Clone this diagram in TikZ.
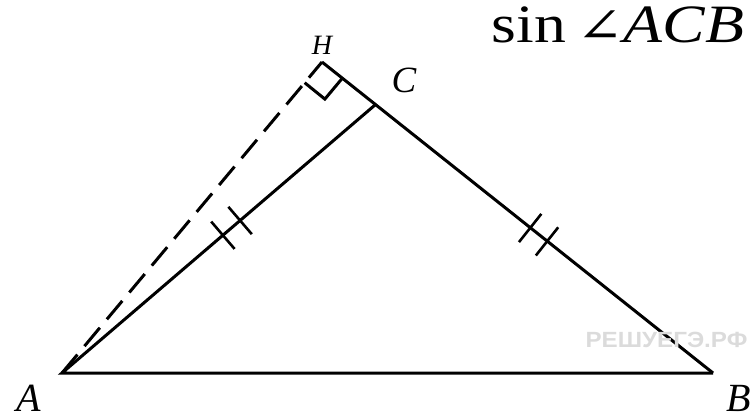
\documentclass[tikz,border=0pt]{standalone}
\usepackage{fontspec}
\setmainfont{Liberation Serif}
\newfontfamily\anglefont{DejaVu Serif}
\newfontfamily\markfont{Liberation Sans}
\usetikzlibrary{calc}

\begin{document}
\begin{tikzpicture}[x=1pt, y=-1pt, line width=3pt,
    vlabel/.style={font=\fontsize{40}{40}\selectfont\itshape, inner sep=0pt},
    tickmark/.style={line width=2.6pt}]
  \useasboundingbox (0,0) rectangle (756,420);
  \clip (0,0) rectangle (756,420);

  % vertices
  \coordinate (A) at (62,373);
  \coordinate (B) at (713,373);
  \coordinate (C) at (375,105);
  \coordinate (H) at (322,62);

  % sides
  \draw (B) -- (A) -- (C);
  \draw (B) -- (H);
  \draw[dash pattern=on 24pt off 11pt] (A) -- (H);

  % right angle at H
  \coordinate (Hc) at ($(H)!26pt!(C)$);
  \coordinate (Ha) at ($(H)!27pt!(A)$);
  \draw (Hc) -- ($(Hc)+(Ha)-(H)$) -- (Ha);

  % equal sides
  \foreach \t in {0.514, 0.569} {
    \coordinate (m) at ($(A)!\t!(C)$);
    \draw[tickmark] ($(m)!18pt!90:(C)$) -- ($(m)!18pt!-90:(C)$);
  }
  \foreach \t in {0.491, 0.541} {
    \coordinate (m) at ($(B)!\t!(C)$);
    \draw[tickmark] ($(m)!18pt!90:(C)$) -- ($(m)!18pt!-90:(C)$);
  }

  % labels
  \node[vlabel] (lA) at (29,398) {A};
  \node[vlabel] (lB) at (739,398) {B};
  \node[vlabel, font=\fontsize{37}{37}\selectfont\itshape] (lC) at (404,80) {C};
  \node[vlabel, font=\fontsize{28}{28}\selectfont\itshape] (lH) at (322,45) {H};

  \node[anchor=base west, inner sep=0pt, font=\fontsize{54}{54}\selectfont] (task) at (490,43)
    {\scalebox{1.18}[1]{sin\,{\anglefont\fontsize{48}{48}\selectfont ∠}\textit{ACB}}};

  \node[anchor=west, inner sep=0pt, text=gray!28, font=\markfont\bfseries\fontsize{22}{22}\selectfont] (wm) at (584,340)
    {\scalebox{1.1}[1]{РЕШУЕГЭ.РФ}};
\end{tikzpicture}
\end{document}
